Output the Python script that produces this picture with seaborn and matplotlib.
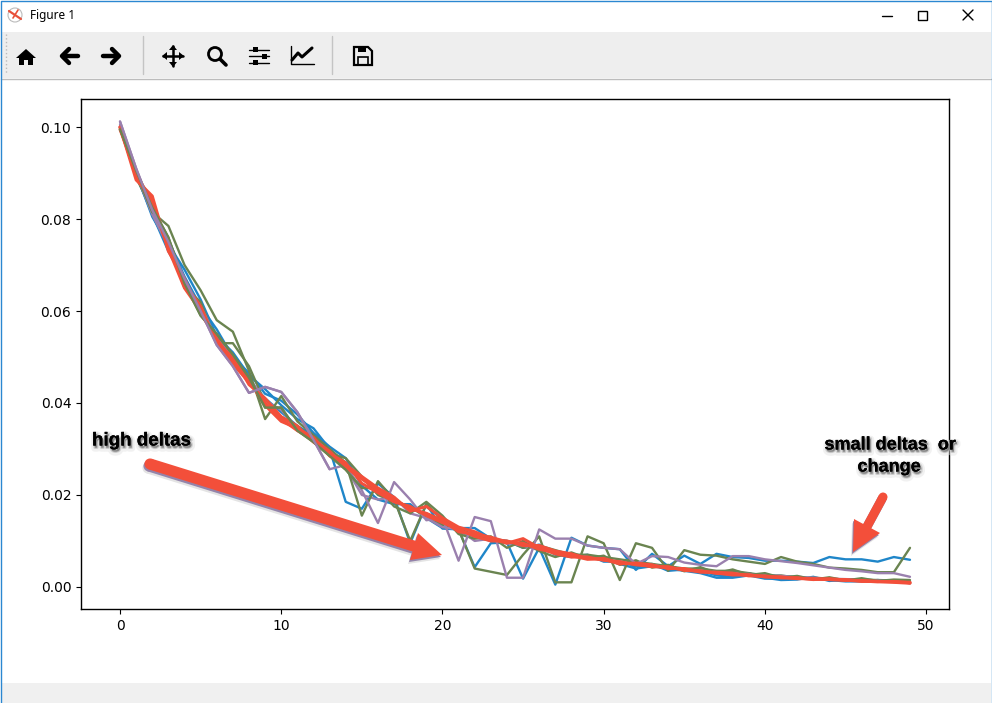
import matplotlib
matplotlib.use('Agg')
import matplotlib.pyplot as plt
import matplotlib.patheffects as pe
from matplotlib.patches import Rectangle, Polygon, Circle
import pandas as pd
import seaborn as sns

epochs = list(range(50))

blue_a = [.1000, .0900, .0805, .0745, .0690, .0625, .0545, .0510, .0460, .0430,
          .0395, .0365, .0345, .0300, .0185, .0170, .0225, .0195, .0095, .0180,
          .0127, .0125, .0043, .0095, .0097, .0018, .0085, .0005, .0107, .0090,
          .0085, .0082, .0037, .0072, .0045, .0068, .0050, .0072, .0065, .0063,
          .0057, .0057, .0055, .0052, .0065, .0060, .0060, .0055, .0065, .0059]
blue_b = [.1000, .0895, .0810, .0730, .0665, .0600, .0535, .0495, .0450, .0410,
          .0380, .0350, .0330, .0295, .0270, .0235, .0210, .0190, .0170, .0160,
          .0140, .0120, .0110, .0100, .0095, .0095, .0085, .0075, .0070, .0065,
          .0060, .0050, .0040, .0045, .0040, .0035, .0030, .0020, .0020, .0025,
          .0018, .0018, .0020, .0018, .0015, .0012, .0012, .0015, .0012, .0010]
blue_c = [.1000, .0905, .0815, .0755, .0675, .0610, .0560, .0500, .0465, .0420,
          .0405, .0375, .0335, .0305, .0280, .0220, .0190, .0180, .0180, .0150,
          .0128, .0128, .0128, .0105, .0100, .0085, .0092, .0070, .0065, .0070,
          .0055, .0055, .0045, .0050, .0035, .0038, .0035, .0025, .0022, .0030,
          .0020, .0015, .0016, .0022, .0013, .0016, .0015, .0012, .0014, .0008]
green_a = [.1000, .0900, .0815, .0785, .0700, .0645, .0580, .0555, .0470, .0365,
           .0415, .0360, .0330, .0300, .0270, .0155, .0230, .0190, .0100, .0180,
           .0145, .0125, .0040, .0033, .0026, .0070, .0110, .0010, .0010, .0110,
           .0095, .0015, .0095, .0085, .0035, .0080, .0070, .0068, .0060, .0055,
           .0050, .0065, .0055, .0050, .0042, .0040, .0037, .0032, .0032, .0085]
green_b = [.1000, .0890, .0820, .0750, .0650, .0620, .0530, .0530, .0480, .0400,
           .0370, .0350, .0320, .0290, .0280, .0240, .0200, .0185, .0175, .0150,
           .0135, .0125, .0115, .0100, .0100, .0085, .0090, .0080, .0070, .0070,
           .0065, .0060, .0055, .0050, .0045, .0040, .0040, .0035, .0035, .0030,
           .0025, .0025, .0020, .0020, .0018, .0016, .0016, .0015, .0014, .0012]
green_c = [.0995, .0905, .0825, .0760, .0660, .0590, .0550, .0505, .0455, .0390,
           .0390, .0340, .0315, .0285, .0255, .0215, .0215, .0175, .0160, .0185,
           .0155, .0115, .0105, .0110, .0085, .0100, .0078, .0065, .0075, .0062,
           .0068, .0048, .0058, .0042, .0048, .0034, .0043, .0030, .0038, .0026,
           .0030, .0020, .0024, .0016, .0021, .0014, .0019, .0013, .0016, .0015]
purple_a = [.1012, .0910, .0820, .0750, .0670, .0600, .0526, .0480, .0422, .0435,
            .0424, .0380, .0320, .0256, .0265, .0210, .0139, .0228, .0190, .0145,
            .0150, .0057, .0152, .0143, .0020, .0020, .0125, .0105, .0105, .0090,
            .0085, .0082, .0050, .0067, .0065, .0053, .0048, .0045, .0067, .0067,
            .0060, .0056, .0052, .0047, .0042, .0037, .0034, .0030, .0030, .0022]
purple_b = [.1005, .0900, .0810, .0740, .0660, .0610, .0540, .0500, .0455, .0405,
            .0385, .0345, .0325, .0300, .0260, .0200, .0190, .0195, .0160, .0150,
            .0130, .0125, .0100, .0105, .0095, .0090, .0080, .0075, .0070, .0065,
            .0058, .0055, .0050, .0048, .0042, .0038, .0036, .0032, .0030, .0028,
            .0026, .0024, .0022, .0020, .0018, .0017, .0016, .0014, .0013, .0012]
red_a = [.1000, .0885, .0850, .0730, .0670, .0595, .0540, .0490, .0450, .0395,
         .0360, .0345, .0325, .0285, .0265, .0240, .0215, .0195, .0165, .0175,
         .0150, .0130, .0120, .0105, .0095, .0105, .0085, .0072, .0065, .0065,
         .0058, .0055, .0048, .0045, .0042, .0038, .0035, .0030, .0028, .0026,
         .0022, .0022, .0018, .0018, .0016, .0014, .0014, .0012, .0010, .0008]
red_b = [.0995, .0900, .0830, .0745, .0660, .0610, .0530, .0500, .0440, .0410,
         .0370, .0350, .0315, .0290, .0270, .0225, .0205, .0185, .0175, .0155,
         .0140, .0125, .0110, .0100, .0100, .0090, .0090, .0078, .0072, .0062,
         .0060, .0050, .0052, .0048, .0040, .0040, .0032, .0032, .0030, .0024,
         .0024, .0020, .0020, .0016, .0018, .0015, .0012, .0012, .0011, .0010]
red_c = [.1000, .0895, .0840, .0735, .0650, .0600, .0535, .0485, .0445, .0400,
         .0365, .0340, .0320, .0295, .0260, .0235, .0210, .0190, .0170, .0160,
         .0145, .0120, .0115, .0108, .0098, .0095, .0082, .0075, .0068, .0060,
         .0062, .0052, .0050, .0044, .0044, .0036, .0034, .0030, .0026, .0026,
         .0022, .0020, .0019, .0017, .0016, .0016, .0013, .0011, .0012, .0009]

series = [('blue', blue_a, 1.7), ('blue', blue_b, 1.7), ('blue', blue_c, 1.7),
          ('green', green_b, 1.7), ('purple', purple_b, 1.7), ('green', green_c, 1.7),
          ('green', green_a, 1.7), ('purple', purple_a, 1.7),
          ('red', red_a, 2.2), ('red', red_b, 2.2), ('red', red_c, 2.2)]
palette = {'blue': '#1f86c9', 'green': '#6a8450', 'purple': '#9a80ae', 'red': '#f34f3a'}
ARROW = '#f34f3a'

sns.set_style('white')
plt.rcParams['font.family'] = ['DejaVu Sans']
plt.rcParams['axes.edgecolor'] = 'black'
plt.rcParams['axes.linewidth'] = 1.0
plt.rcParams['text.color'] = 'black'
plt.rcParams['xtick.color'] = 'black'
plt.rcParams['ytick.color'] = 'black'

fig = plt.figure(figsize=(9.92, 7.03), dpi=100, facecolor='white')
ax = fig.add_axes([81 / 992, (703 - 609) / 703, 868 / 992, 510 / 703])

for name, vals, lw in series:
    df = pd.DataFrame({'epoch': epochs, 'value': vals})
    sns.lineplot(data=df, x='epoch', y='value', color=palette[name], linewidth=lw, ax=ax)

# a green pass on top of the reds, the upper part looks green in the picture
sns.lineplot(x=epochs[:16], y=green_c[:16], color=palette['green'], linewidth=1.7, ax=ax)
sns.lineplot(x=epochs[:14], y=purple_a[:14], color=palette['purple'], linewidth=1.7, ax=ax)

ax.set_xlim(-2.42, 51.42)
ax.set_ylim(-0.0048, 0.1061)
ax.set_xlabel('')
ax.set_ylabel('')
ax.set_xticks([0, 10, 20, 30, 40, 50])
ax.set_yticks([0.00, 0.02, 0.04, 0.06, 0.08, 0.10])
ax.set_yticklabels(['0.00', '0.02', '0.04', '0.06', '0.08', '0.10'])
ax.tick_params(axis='both', length=3.5, width=0.8, labelsize=10, left=True, bottom=True)

# window frame and hand drawn notes, in pixel coordinates
ov = fig.add_axes([0, 0, 1, 1], facecolor='none')
ov.set_xlim(0, 992)
ov.set_ylim(703, 0)
ov.axis('off')

ov.add_patch(Rectangle((1, 32), 990, 46, fc='#eeeeee', ec='none'))
ov.plot([1, 991], [78.5, 78.5], color='#bcbcbc', lw=1)
ov.add_patch(Rectangle((1, 683), 990, 20, fc='#f0f0f0', ec='none'))
ov.plot([0.5, 0.5, 991.5, 991.5], [703, 0.5, 0.5, 703], color='#2b87d1', lw=1)

ov.text(30, 16, 'Figure 1', fontsize=8.5, family='Noto Sans', va='center', ha='left')
ov.add_patch(Circle((15, 15), 7, fc='white', ec='#bbbbbb', lw=0.8))
ov.plot([9, 21], [11, 19], color='#e8503a', lw=1.6)
ov.plot([13, 18], [18, 10], color='#e8503a', lw=1.2)

# caption buttons
ov.plot([882, 892], [15.5, 15.5], color='black', lw=1)
ov.add_patch(Rectangle((917.5, 10.5), 9, 9, fc='none', ec='black', lw=1))
ov.plot([963, 973], [10, 20], color='black', lw=1)
ov.plot([963, 973], [20, 10], color='black', lw=1)

# toolbar
ov.plot([143, 143], [36, 74], color='#c4c4c4', lw=1)
ov.plot([332, 332], [36, 74], color='#c4c4c4', lw=1)
ov.plot([6, 6], [34, 74], color='#bbbbbb', lw=1, ls=':')
ov.add_patch(Polygon([[16, 58], [26, 49], [36, 58], [33, 58], [33, 65], [28, 65], [28, 60], [24, 60],
                      [24, 65], [19, 65], [19, 58]], fc='black', ec='none'))
ov.plot([78, 65], [56, 56], color='black', lw=3.2)
ov.plot([69, 62, 69], [49, 56, 63], color='black', lw=3.2)
ov.plot([103, 116], [56, 56], color='black', lw=3.2)
ov.plot([112, 119, 112], [49, 56, 63], color='black', lw=3.2)
ov.plot([163, 183], [56, 56], color='black', lw=1.8)
ov.plot([173, 173], [46, 66], color='black', lw=1.8)
ov.add_patch(Polygon([[162, 56], [167, 52], [167, 60]], fc='black', ec='none'))
ov.add_patch(Polygon([[184, 56], [179, 52], [179, 60]], fc='black', ec='none'))
ov.add_patch(Polygon([[173, 45], [169, 50], [177, 50]], fc='black', ec='none'))
ov.add_patch(Polygon([[173, 67], [169, 62], [177, 62]], fc='black', ec='none'))
ov.add_patch(Circle((215, 54), 6.5, fc='none', ec='black', lw=2))
ov.plot([220, 226], [59, 65], color='black', lw=2.6)
for yy, xx in [(49.5, 255), (56, 264), (62.5, 255)]:
    ov.plot([249, 269], [yy, yy], color='black', lw=1)
    ov.add_patch(Rectangle((xx - 2.5, yy - 2.5), 5, 5, fc='black', ec='none', zorder=3))
ov.plot([291, 291, 314], [46, 64, 64], color='black', lw=1)
ov.plot([292, 298, 302, 312], [60, 53, 57, 48], color='black', lw=2.2)
ov.add_patch(Polygon([[354, 47], [368, 47], [372, 51], [372, 65], [354, 65]], fc='none', ec='black', lw=1.6))
ov.add_patch(Rectangle((358, 47), 8, 5, fc='black', ec='none'))
ov.add_patch(Rectangle((358, 57), 10, 8, fc='none', ec='black', lw=1.2))


def draw_arrow(tail, neck, head, lw):
    # soft shadow, purple edge, then the arrow; zorder keeps the layers in that order
    for z, (dx, dy, col) in enumerate([(-2, 4, '#e4e4e4'), (-1, 2, '#9484aa'), (0, 0, ARROW)]):
        ov.plot([tail[0] + dx, neck[0] + dx], [tail[1] + dy, neck[1] + dy], color=col, lw=lw,
                solid_capstyle='butt', zorder=5 + z)
        ov.add_patch(Circle((tail[0] + dx, tail[1] + dy), lw * 0.69, fc=col, ec='none', zorder=5 + z))
        ov.add_patch(Polygon([[p[0] + dx, p[1] + dy] for p in head], fc=col, ec='none', zorder=5 + z))


draw_arrow((150, 464), (420, 548), [[418, 533], [442, 555], [410, 560]], 8)
draw_arrow((883, 497), (863, 534), [[854, 519], [880, 533], [853, 552]], 6.5)

glow = [pe.withStroke(linewidth=5, foreground='#e2e2e2', alpha=0.45, offset=(1, -2)),
        pe.withStroke(linewidth=2, foreground='#b4b4b4', alpha=0.5, offset=(1, -1.5)),
        pe.Normal()]
ov.text(92, 441, 'high deltas', fontsize=13.5, fontweight='bold', family='Liberation Sans',
        va='center', ha='left', path_effects=glow)
ov.text(890, 445, 'small deltas  or', fontsize=13, fontweight='bold', family='Liberation Sans',
        va='center', ha='center', path_effects=glow)
ov.text(889, 467, 'change', fontsize=13, fontweight='bold', family='Liberation Sans',
        va='center', ha='center', path_effects=glow)

fig.savefig('out.png', dpi=100)
